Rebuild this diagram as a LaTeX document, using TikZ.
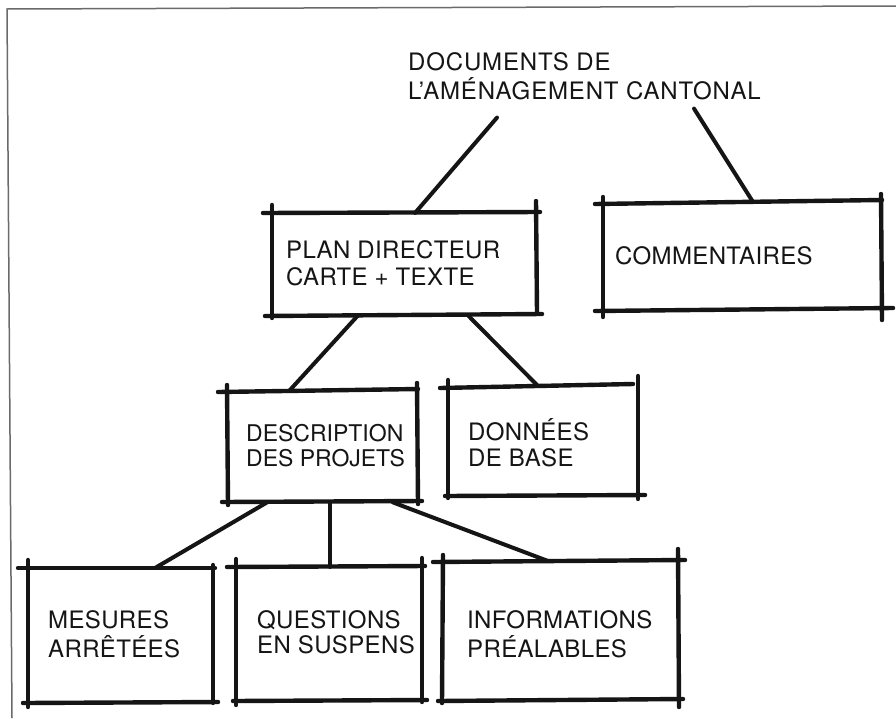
\documentclass[tikz,border=0pt]{standalone}
\usepackage{fontspec}
\setmainfont[LetterSpace=1.5]{TeX Gyre Heros}
\usetikzlibrary{calc}
\newcommand{\twoline}[4]{{\fontsize{#1}{#2}\selectfont\begin{tabular}[t]{@{}l@{}}#3\\#4\end{tabular}}}
\definecolor{ink}{HTML}{151515}
\definecolor{framegray}{HTML}{6A6A6A}
\begin{document}
\begin{tikzpicture}[x=1pt,y=-1pt,
  boxarea/.style={rectangle,draw=none,inner sep=0pt,anchor=north west},
  sketch/.style={line width=4.4pt,line cap=round,draw=ink},
  conn/.style={line width=4pt,line cap=round,draw=ink},
  lbl/.style={inner sep=0pt,anchor=base west,text=ink,font=\fontsize{24}{25}\selectfont},
  framestyle/.style={line width=1.5pt,draw=framegray}]
\useasboundingbox (0,0) rectangle (896,718);
\fill[white] (0,0) rectangle (896,718);
% frame
\draw[framestyle] (12,718) -- (7,9) -- (896,6);

% box areas (named)
\node[boxarea,minimum width=264pt,minimum height=102pt] (plan) at (272,213) {};
\node[boxarea,minimum width=278pt,minimum height=107pt] (comm) at (603,202) {};
\node[boxarea,minimum width=190pt,minimum height=112pt] (desc) at (227,390) {};
\node[boxarea,minimum width=190pt,minimum height=109pt] (donn) at (448,386) {};
\node[boxarea,minimum width=185pt,minimum height=134pt] (mes) at (28,568) {};
\node[boxarea,minimum width=186pt,minimum height=133pt] (ques) at (236,567) {};
\node[boxarea,minimum width=235pt,minimum height=139pt] (info) at (443,561) {};

% sketched box outlines
% plan
\draw[sketch] (263,213) -- (540,212);
\draw[sketch] (265,316) -- (542,314);
\draw[sketch] (272,205) -- (272,318);
\draw[sketch] (536,201) -- (537,313);
% commentaires
\draw[sketch] (595,204) -- (882,200);
\draw[sketch] (595,311) -- (893,308);
\draw[sketch] (603,197) -- (603,317);
\draw[sketch] (881,194) -- (882,320);
% description
\draw[sketch] (218,392) -- (418,389);
\draw[sketch] (222,502) -- (422,501);
\draw[sketch] (227,385) -- (228,505);
\draw[sketch] (417,383) -- (418,504);
% donnees
\draw[sketch] (440,388) -- (633,384);
\draw[sketch] (445,496) -- (645,495);
\draw[sketch] (448,380) -- (448,498);
\draw[sketch] (638,376) -- (638,499);
% mesures
\draw[sketch] (18,568) -- (215,568);
\draw[sketch] (23,703) -- (218,702);
\draw[sketch] (28,560) -- (28,707);
\draw[sketch] (213,565) -- (213,703);
% questions
\draw[sketch] (227,567) -- (425,566);
\draw[sketch] (233,701) -- (427,700);
\draw[sketch] (236,559) -- (236,705);
\draw[sketch] (422,558) -- (422,702);
% informations
\draw[sketch] (433,562) -- (685,560);
\draw[sketch] (438,701) -- (683,699);
\draw[sketch] (443,555) -- (442,703);
\draw[sketch] (678,549) -- (679,707);

% labels
\node[lbl] (title) at (408,70) {\addfontfeature{LetterSpace=3.5}\twoline{24}{24}{DOCUMENTS DE}{L’AMÉNAGEMENT CANTONAL}};
\node[lbl] (planT) at (286,258) {\twoline{24}{27}{PLAN DIRECTEUR}{CARTE + TEXTE}};
\node[lbl] (commT) at (615,264) {COMMENTAIRES};
\node[lbl] (descT) at (246,441) {\addfontfeature{LetterSpace=0}\twoline{23}{25}{DESCRIPTION}{DES PROJETS}};
\node[lbl] (donnT) at (468,440) {\twoline{24}{26}{DONNÉES}{DE BASE}};
\node[lbl] (mesT) at (48,628) {\twoline{24}{25}{MESURES}{ARRÊTÉES}};
\node[lbl] (quesT) at (257,628) {\twoline{24}{25}{QUESTIONS}{EN SUSPENS}};
\node[lbl] (infoT) at (467,628) {\twoline{24}{25}{INFORMATIONS}{PRÉALABLES}};

% connectors
\draw[conn] ([shift={(89,11)}]title.south west) -- ([shift={(143,0)}]plan.north west);
\draw[conn] ([shift={(286,2)}]title.south west) -- ([shift={(150,0)}]comm.north west);
\draw[conn] ([shift={(86,0)}]plan.south west) -- ([shift={(63,0)}]desc.north west);
\draw[conn] ([shift={(196,0)}]plan.south west) -- ([shift={(90,0)}]donn.north west);
\draw[conn] ([shift={(40,0)}]desc.south west) -- ([shift={(127,0)}]mes.north west);
\draw[conn] ([shift={(103,0)}]desc.south west) -- ([shift={(94,0)}]ques.north west);
\draw[conn] ([shift={(166,0)}]desc.south west) -- ([shift={(105,0)}]info.north west);
\end{tikzpicture}
\end{document}
